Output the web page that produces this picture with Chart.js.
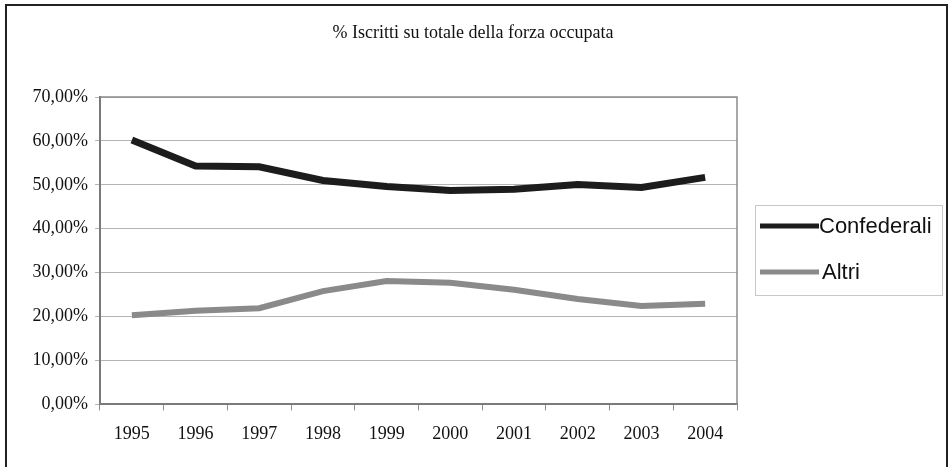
<!DOCTYPE html>
<html>
<head>
<meta charset="utf-8">
<script src="https://cdn.jsdelivr.net/npm/chart.js@4.4.0/dist/chart.umd.min.js"></script>
<style>
    html, body { margin: 0; padding: 0; background: #fff; }
    #wrap { width: 950px; height: 467px; }
</style>
</head>
<body>
<div id="wrap"><canvas id="lineChart"></canvas></div>
<script>
const years = ["1995", "1996", "1997", "1998", "1999", "2000", "2001", "2002", "2003", "2004"];
const confederali = [60.2, 54.3, 54.1, 51.0, 49.6, 48.7, 49.0, 50.1, 49.4, 51.7];
const altri = [20.3, 21.3, 21.9, 25.8, 28.1, 27.7, 26.1, 24.0, 22.4, 22.9];
const yTicks = [0, 10, 20, 30, 40, 50, 60, 70];
const chartTitle = '% Iscritti su totale della forza occupata';

const serif = '"Liberation Serif", "Times New Roman", serif';

// title over the whole picture, frame, right edge of the plot, boxed legend
const extras = {
    id: 'extras',
    beforeDatasetsDraw(chart) {
        const ctx = chart.ctx;
        const a = chart.chartArea;
        ctx.save();
        ctx.strokeStyle = '#8c8c8c';
        ctx.lineWidth = 1.5;
        ctx.beginPath();
        ctx.moveTo(a.left, a.top);
        ctx.lineTo(a.right, a.top);
        ctx.lineTo(a.right, a.bottom);
        ctx.stroke();
        ctx.restore();
    },
    afterDraw(chart) {
        const ctx = chart.ctx;
        ctx.save();
        ctx.strokeStyle = '#222';
        ctx.lineWidth = 2;
        ctx.strokeRect(6, 5, 941, 480);

        ctx.fillStyle = '#111';
        ctx.font = '18px ' + serif;
        ctx.textAlign = 'center';
        ctx.textBaseline = 'middle';
        ctx.fillText(chartTitle, 473, 33);

        ctx.strokeStyle = '#c8c8c8';
        ctx.lineWidth = 1;
        ctx.strokeRect(755.5, 205.5, 187, 90);

        let sets = chart.data.datasets;
        let rows = [226, 272];
        ctx.font = '22px "Liberation Sans", Arial, sans-serif';
        ctx.textAlign = 'left';
        sets.forEach((ds, i) => {
            ctx.strokeStyle = ds.borderColor;
            ctx.lineWidth = 5;
            ctx.beginPath();
            ctx.moveTo(760, rows[i]);
            ctx.lineTo(819, rows[i]);
            ctx.stroke();
            ctx.fillText(ds.label, i === 0 ? 819 : 822, rows[i] + 1);
        });
        ctx.restore();
    }
};

new Chart(document.getElementById('lineChart'), {
    type: 'line',
    data: {
        labels: years,
        datasets: [
            {
                label: 'Confederali',
                data: confederali,
                borderColor: '#1c1c1c',
                borderWidth: 7,
                pointRadius: 0,
                tension: 0,
                borderCapStyle: 'butt'
            },
            {
                label: 'Altri',
                data: altri,
                borderColor: '#8a8a8a',
                borderWidth: 6,
                pointRadius: 0,
                tension: 0,
                borderCapStyle: 'butt'
            }
        ]
    },
    options: {
        responsive: true,
        maintainAspectRatio: false,
        animation: false,
        layout: {
            padding: { top: 97, left: 0, right: 213, bottom: 9 }
        },
        plugins: {
            legend: { display: false },
            tooltip: { enabled: false },
            title: { display: false }
        },
        scales: {
            x: {
                offset: true,
                grid: { offset: true, drawOnChartArea: false, drawTicks: true, tickLength: 6, color: '#8c8c8c' },
                border: { color: '#7a7a7a', width: 2 },
                ticks: {
                    color: '#111',
                    padding: 13,
                    maxRotation: 0,
                    font: { family: serif, size: 18 }
                }
            },
            y: {
                min: 0,
                max: 70,
                afterFit: (scale) => { scale.width = 100; },
                afterBuildTicks: (scale) => { scale.ticks = yTicks.map(v => ({ value: v })); },
                grid: { color: '#b4b4b4', lineWidth: 1, tickLength: 5, drawTicks: true },
                border: { color: '#7a7a7a', width: 2 },
                ticks: {
                    color: '#111',
                    padding: 7,
                    font: { family: serif, size: 18 },
                    callback: (v) => v.toFixed(2).replace('.', ',') + '%'
                }
            }
        }
    },
    plugins: [extras]
});
</script>
</body>
</html>
